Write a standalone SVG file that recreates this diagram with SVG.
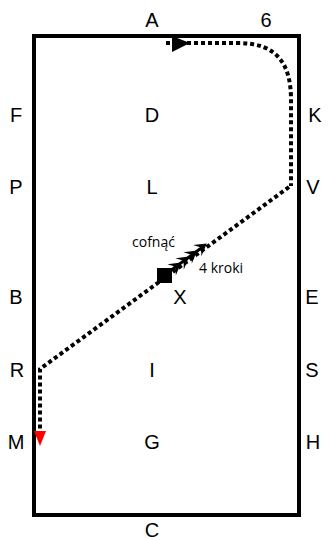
<svg xmlns="http://www.w3.org/2000/svg" width="329" height="540" viewBox="0 0 329 540">
<style>
.lbl{font-family:"Liberation Sans",Arial,sans-serif;font-size:20px;fill:#000;text-anchor:middle}
.sm{font-family:"Open Sans","Liberation Sans",sans-serif;font-size:14px;fill:#000}
.dot{fill:none;stroke:#000;stroke-width:4;stroke-dasharray:4 3}
</style>
<rect width="329" height="540" fill="#fff"/>
<g id="arena"><rect x="34" y="36" width="265" height="479" fill="none" stroke="#000" stroke-width="4"/></g>
<g id="labels">
<text class="lbl" x="152" y="27">A</text>
<text class="lbl" x="266" y="27">6</text>
<text class="lbl" x="16" y="122">F</text>
<text class="lbl" x="152" y="122">D</text>
<text class="lbl" x="315" y="122">K</text>
<text class="lbl" x="16" y="194">P</text>
<text class="lbl" x="152" y="194">L</text>
<text class="lbl" x="313" y="194">V</text>
<text class="lbl" x="16" y="304">B</text>
<text class="lbl" x="180" y="304">X</text>
<text class="lbl" x="312" y="304">E</text>
<text class="lbl" x="17" y="377">R</text>
<text class="lbl" x="152" y="377">I</text>
<text class="lbl" x="312" y="377">S</text>
<text class="lbl" x="16" y="449">M</text>
<text class="lbl" x="152" y="449">G</text>
<text class="lbl" x="313" y="449">H</text>
<text class="lbl" x="152" y="537">C</text>
<text class="sm" x="132" y="247">cofnąć</text>
<text class="sm" x="199" y="273">4 kroki</text>
</g>
<g id="connectors">
<path class="dot" d="M166 43 H238 C278 43 291 65 291 100 V186"/>
<polygon points="172,36 190,43 172,52" fill="#000"/>
<path class="dot" d="M289 187 L40 369 V434"/>
<rect x="157" y="268" width="15" height="15" fill="#000"/>
<path d="M170,271 L204,246" stroke="#000" stroke-width="3" fill="none"/>
<g fill="#000">
<polygon points="181.2,262.6 175.8,275.4 175.6,266.8 167.4,264.2"/>
<polygon points="189.2,256.6 183.8,269.4 183.6,260.8 175.4,258.2"/>
<polygon points="197.2,250.6 191.8,263.4 191.6,254.8 183.4,252.2"/>
<polygon points="206.8,243.4 201.4,256.2 201.2,247.6 193.0,245.0"/>
</g>
<polygon points="34,431 46,431 40,446" fill="#ff0000"/>
</g>
</svg>
